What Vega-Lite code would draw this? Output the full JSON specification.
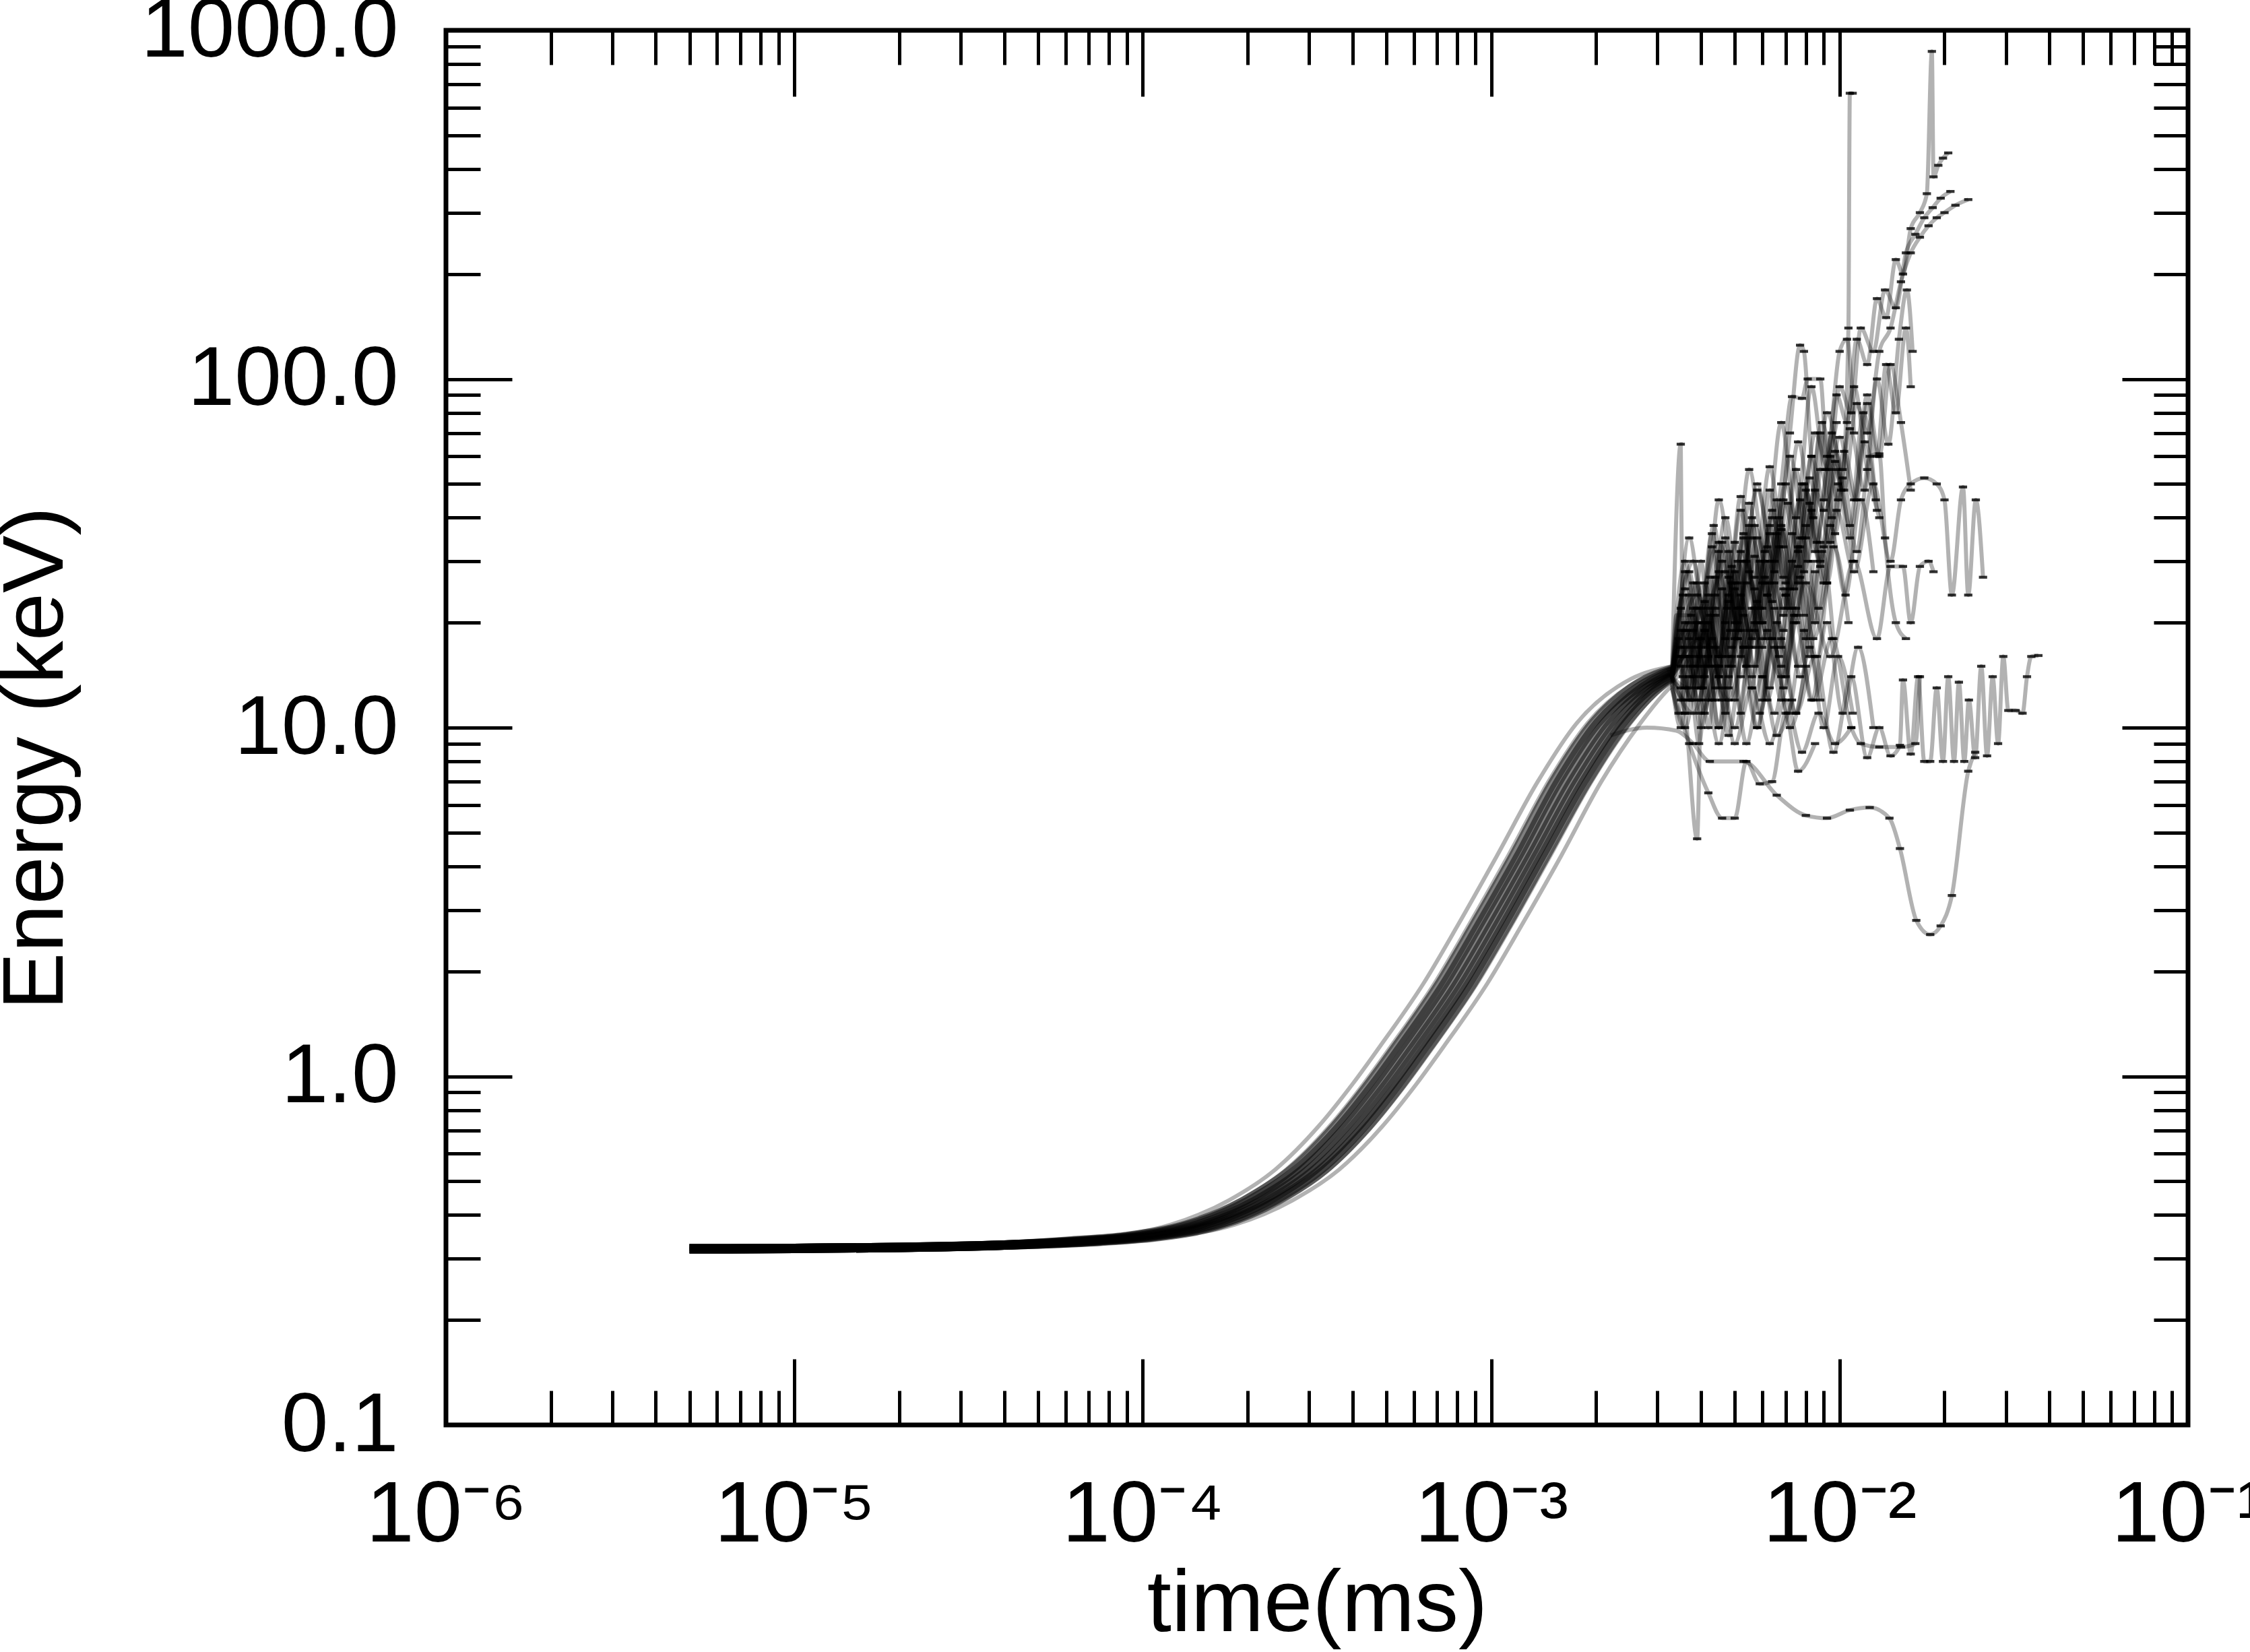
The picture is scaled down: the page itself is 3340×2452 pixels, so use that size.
{
  "$schema": "https://vega.github.io/schema/vega-lite/v6.json",
  "description": "Energy of particle runs against time, log-log",
  "width": 2586,
  "height": 2070,
  "autosize": {"type": "none"},
  "padding": {"left": 662, "top": 45, "right": 92, "bottom": 337},
  "background": "white",
  "config": {"view": {"stroke": "black", "strokeWidth": 7}, "font": "Liberation Sans"},
  "data": {"values": [
    {"run":1,"time":5e-6,"energy":0.32},{"run":1,"time":1e-5,"energy":0.321},{"run":1,"time":2e-5,"energy":0.323},{"run":1,"time":4e-5,"energy":0.328},{"run":1,"time":7e-5,"energy":0.337},{"run":1,"time":1e-4,"energy":0.347},{"run":1,"time":1.5e-4,"energy":0.375},{"run":1,"time":2.2e-4,"energy":0.44},{"run":1,"time":3e-4,"energy":0.54},{"run":1,"time":4e-4,"energy":0.72},{"run":1,"time":5e-4,"energy":0.95},{"run":1,"time":6e-4,"energy":1.22},{"run":1,"time":8e-4,"energy":1.85},{"run":1,"time":1e-3,"energy":2.7},{"run":1,"time":1.3e-3,"energy":4.3},{"run":1,"time":1.7e-3,"energy":7.0},{"run":1,"time":2.2e-3,"energy":10.3},{"run":1,"time":2.8e-3,"energy":13.0},{"run":1,"time":3.3e-3,"energy":14.3},
    {"run":2,"time":5e-6,"energy":0.32},{"run":2,"time":1e-5,"energy":0.321},{"run":2,"time":2e-5,"energy":0.323},{"run":2,"time":4e-5,"energy":0.328},{"run":2,"time":6.44e-5,"energy":0.337},{"run":2,"time":9.2e-5,"energy":0.347},{"run":2,"time":1.38e-4,"energy":0.375},{"run":2,"time":2.02e-4,"energy":0.44},{"run":2,"time":2.76e-4,"energy":0.54},{"run":2,"time":3.68e-4,"energy":0.72},{"run":2,"time":4.6e-4,"energy":0.95},{"run":2,"time":5.52e-4,"energy":1.22},{"run":2,"time":7.36e-4,"energy":1.85},{"run":2,"time":9.2e-4,"energy":2.7},{"run":2,"time":1.2e-3,"energy":4.3},{"run":2,"time":1.56e-3,"energy":7.0},{"run":2,"time":2.02e-3,"energy":10.3},{"run":2,"time":2.69e-3,"energy":13.2},{"run":2,"time":3.3e-3,"energy":14.6},
    {"run":3,"time":5e-6,"energy":0.32},{"run":3,"time":1e-5,"energy":0.321},{"run":3,"time":2e-5,"energy":0.323},{"run":3,"time":4e-5,"energy":0.328},{"run":3,"time":7.56e-5,"energy":0.337},{"run":3,"time":1.08e-4,"energy":0.347},{"run":3,"time":1.62e-4,"energy":0.375},{"run":3,"time":2.38e-4,"energy":0.44},{"run":3,"time":3.24e-4,"energy":0.54},{"run":3,"time":4.32e-4,"energy":0.72},{"run":3,"time":5.4e-4,"energy":0.95},{"run":3,"time":6.48e-4,"energy":1.22},{"run":3,"time":8.64e-4,"energy":1.85},{"run":3,"time":1.08e-3,"energy":2.7},{"run":3,"time":1.4e-3,"energy":4.3},{"run":3,"time":1.84e-3,"energy":7.0},{"run":3,"time":2.38e-3,"energy":10.3},{"run":3,"time":2.91e-3,"energy":12.8},{"run":3,"time":3.3e-3,"energy":14.0},
    {"run":4,"time":5e-6,"energy":0.32},{"run":4,"time":1e-5,"energy":0.321},{"run":4,"time":2e-5,"energy":0.323},{"run":4,"time":4e-5,"energy":0.328},{"run":4,"time":6.02e-5,"energy":0.337},{"run":4,"time":8.6e-5,"energy":0.347},{"run":4,"time":1.29e-4,"energy":0.375},{"run":4,"time":1.89e-4,"energy":0.44},{"run":4,"time":2.58e-4,"energy":0.54},{"run":4,"time":3.44e-4,"energy":0.72},{"run":4,"time":4.3e-4,"energy":0.95},{"run":4,"time":5.16e-4,"energy":1.22},{"run":4,"time":6.88e-4,"energy":1.85},{"run":4,"time":8.6e-4,"energy":2.7},{"run":4,"time":1.12e-3,"energy":4.3},{"run":4,"time":1.46e-3,"energy":7.0},{"run":4,"time":1.89e-3,"energy":10.3},{"run":4,"time":2.6e-3,"energy":13.5},{"run":4,"time":3.3e-3,"energy":14.8},
    {"run":5,"time":5e-6,"energy":0.32},{"run":5,"time":1e-5,"energy":0.321},{"run":5,"time":2e-5,"energy":0.323},{"run":5,"time":4e-5,"energy":0.328},{"run":5,"time":7.98e-5,"energy":0.337},{"run":5,"time":1.14e-4,"energy":0.347},{"run":5,"time":1.71e-4,"energy":0.375},{"run":5,"time":2.51e-4,"energy":0.44},{"run":5,"time":3.42e-4,"energy":0.54},{"run":5,"time":4.56e-4,"energy":0.72},{"run":5,"time":5.7e-4,"energy":0.95},{"run":5,"time":6.84e-4,"energy":1.22},{"run":5,"time":9.12e-4,"energy":1.85},{"run":5,"time":1.14e-3,"energy":2.7},{"run":5,"time":1.48e-3,"energy":4.3},{"run":5,"time":1.94e-3,"energy":7.0},{"run":5,"time":2.51e-3,"energy":10.3},{"run":5,"time":2.99e-3,"energy":12.6},{"run":5,"time":3.3e-3,"energy":13.7},
    {"run":6,"time":5e-6,"energy":0.32},{"run":6,"time":1e-5,"energy":0.321},{"run":6,"time":2e-5,"energy":0.323},{"run":6,"time":4e-5,"energy":0.328},{"run":6,"time":6.72e-5,"energy":0.337},{"run":6,"time":9.6e-5,"energy":0.347},{"run":6,"time":1.44e-4,"energy":0.375},{"run":6,"time":2.11e-4,"energy":0.44},{"run":6,"time":2.88e-4,"energy":0.54},{"run":6,"time":3.84e-4,"energy":0.72},{"run":6,"time":4.8e-4,"energy":0.95},{"run":6,"time":5.76e-4,"energy":1.22},{"run":6,"time":7.68e-4,"energy":1.85},{"run":6,"time":9.6e-4,"energy":2.7},{"run":6,"time":1.25e-3,"energy":4.3},{"run":6,"time":1.63e-3,"energy":7.0},{"run":6,"time":2.11e-3,"energy":10.3},{"run":6,"time":2.74e-3,"energy":13.1},{"run":6,"time":3.3e-3,"energy":14.5},
    {"run":7,"time":5e-6,"energy":0.32},{"run":7,"time":1e-5,"energy":0.321},{"run":7,"time":2e-5,"energy":0.323},{"run":7,"time":4e-5,"energy":0.328},{"run":7,"time":7.28e-5,"energy":0.337},{"run":7,"time":1.04e-4,"energy":0.347},{"run":7,"time":1.56e-4,"energy":0.375},{"run":7,"time":2.29e-4,"energy":0.44},{"run":7,"time":3.12e-4,"energy":0.54},{"run":7,"time":4.16e-4,"energy":0.72},{"run":7,"time":5.2e-4,"energy":0.95},{"run":7,"time":6.24e-4,"energy":1.22},{"run":7,"time":8.32e-4,"energy":1.85},{"run":7,"time":1.04e-3,"energy":2.7},{"run":7,"time":1.35e-3,"energy":4.3},{"run":7,"time":1.77e-3,"energy":7.0},{"run":7,"time":2.29e-3,"energy":10.3},{"run":7,"time":2.86e-3,"energy":12.9},{"run":7,"time":3.3e-3,"energy":14.1},
    {"run":8,"time":5e-6,"energy":0.32},{"run":8,"time":1e-5,"energy":0.321},{"run":8,"time":2e-5,"energy":0.323},{"run":8,"time":4e-5,"energy":0.328},{"run":8,"time":5.6e-5,"energy":0.337},{"run":8,"time":8e-5,"energy":0.347},{"run":8,"time":1.2e-4,"energy":0.375},{"run":8,"time":1.76e-4,"energy":0.44},{"run":8,"time":2.4e-4,"energy":0.54},{"run":8,"time":3.2e-4,"energy":0.72},{"run":8,"time":4e-4,"energy":0.95},{"run":8,"time":4.8e-4,"energy":1.22},{"run":8,"time":6.4e-4,"energy":1.85},{"run":8,"time":8e-4,"energy":2.7},{"run":8,"time":1.04e-3,"energy":4.3},{"run":8,"time":1.36e-3,"energy":7.0},{"run":8,"time":1.76e-3,"energy":10.3},{"run":8,"time":2.52e-3,"energy":13.8},{"run":8,"time":3.3e-3,"energy":15.0},
    {"run":9,"time":5e-6,"energy":0.32},{"run":9,"time":1e-5,"energy":0.321},{"run":9,"time":2e-5,"energy":0.323},{"run":9,"time":4e-5,"energy":0.328},{"run":9,"time":8.54e-5,"energy":0.337},{"run":9,"time":1.22e-4,"energy":0.347},{"run":9,"time":1.83e-4,"energy":0.375},{"run":9,"time":2.68e-4,"energy":0.44},{"run":9,"time":3.66e-4,"energy":0.54},{"run":9,"time":4.88e-4,"energy":0.72},{"run":9,"time":6.1e-4,"energy":0.95},{"run":9,"time":7.32e-4,"energy":1.22},{"run":9,"time":9.76e-4,"energy":1.85},{"run":9,"time":1.22e-3,"energy":2.7},{"run":9,"time":1.59e-3,"energy":4.3},{"run":9,"time":2.07e-3,"energy":7.0},{"run":9,"time":2.68e-3,"energy":10.3},{"run":9,"time":3.11e-3,"energy":12.4},{"run":9,"time":3.3e-3,"energy":13.2},
    {"run":10,"time":5e-6,"energy":0.32},{"run":10,"time":1e-5,"energy":0.321},{"run":10,"time":2e-5,"energy":0.323},{"run":10,"time":4e-5,"energy":0.328},{"run":10,"time":6.23e-5,"energy":0.337},{"run":10,"time":8.9e-5,"energy":0.347},{"run":10,"time":1.34e-4,"energy":0.375},{"run":10,"time":1.96e-4,"energy":0.44},{"run":10,"time":2.67e-4,"energy":0.54},{"run":10,"time":3.56e-4,"energy":0.72},{"run":10,"time":4.45e-4,"energy":0.95},{"run":10,"time":5.34e-4,"energy":1.22},{"run":10,"time":7.12e-4,"energy":1.85},{"run":10,"time":8.9e-4,"energy":2.7},{"run":10,"time":1.16e-3,"energy":4.3},{"run":10,"time":1.51e-3,"energy":7.0},{"run":10,"time":1.96e-3,"energy":10.3},{"run":10,"time":2.65e-3,"energy":13.4},{"run":10,"time":3.3e-3,"energy":14.7},
    {"run":49,"time":5e-6,"energy":0.32},{"run":49,"time":1e-5,"energy":0.321},{"run":49,"time":2e-5,"energy":0.323},{"run":49,"time":4e-5,"energy":0.328},{"run":49,"time":7.77e-5,"energy":0.337},{"run":49,"time":1.11e-4,"energy":0.347},{"run":49,"time":1.67e-4,"energy":0.375},{"run":49,"time":2.44e-4,"energy":0.44},{"run":49,"time":3.33e-4,"energy":0.54},{"run":49,"time":4.44e-4,"energy":0.72},{"run":49,"time":5.55e-4,"energy":0.95},{"run":49,"time":6.66e-4,"energy":1.22},{"run":49,"time":8.88e-4,"energy":1.85},{"run":49,"time":1.11e-3,"energy":2.7},{"run":49,"time":1.44e-3,"energy":4.3},{"run":49,"time":1.89e-3,"energy":7.0},{"run":49,"time":2.44e-3,"energy":10.3},{"run":49,"time":2.95e-3,"energy":12.7},{"run":49,"time":3.3e-3,"energy":13.9},
    {"run":11,"time":3.3e-3,"energy":14},{"run":11,"time":3.5e-3,"energy":22},{"run":11,"time":3.7e-3,"energy":12},{"run":11,"time":4.0e-3,"energy":30},{"run":11,"time":4.3e-3,"energy":15},{"run":11,"time":4.7e-3,"energy":35},{"run":11,"time":5.1e-3,"energy":18},{"run":11,"time":5.6e-3,"energy":40},{"run":11,"time":6.0e-3,"energy":20},{"run":11,"time":6.6e-3,"energy":45},{"run":11,"time":7.2e-3,"energy":25},{"run":11,"time":8.0e-3,"energy":38},
    {"run":12,"time":3.3e-3,"energy":13},{"run":12,"time":3.45e-3,"energy":18},{"run":12,"time":3.6e-3,"energy":11},{"run":12,"time":3.9e-3,"energy":20},{"run":12,"time":4.2e-3,"energy":10},{"run":12,"time":4.6e-3,"energy":25},{"run":12,"time":5.0e-3,"energy":12},{"run":12,"time":5.5e-3,"energy":28},{"run":12,"time":6.0e-3,"energy":14},{"run":12,"time":6.5e-3,"energy":22},
    {"run":13,"time":3.2e-3,"energy":14.5},{"run":13,"time":3.5e-3,"energy":16},{"run":13,"time":3.8e-3,"energy":26},{"run":13,"time":4.1e-3,"energy":14},{"run":13,"time":4.5e-3,"energy":32},{"run":13,"time":4.9e-3,"energy":17},{"run":13,"time":5.3e-3,"energy":36},{"run":13,"time":5.8e-3,"energy":22},{"run":13,"time":6.3e-3,"energy":48},{"run":13,"time":6.9e-3,"energy":27},{"run":13,"time":7.5e-3,"energy":55},{"run":13,"time":8.1e-3,"energy":30},{"run":13,"time":8.8e-3,"energy":70},{"run":13,"time":9.5e-3,"energy":40},
    {"run":14,"time":3.3e-3,"energy":14},{"run":14,"time":3.6e-3,"energy":20},{"run":14,"time":4.0e-3,"energy":13},{"run":14,"time":4.5e-3,"energy":28},{"run":14,"time":5.0e-3,"energy":18},{"run":14,"time":5.6e-3,"energy":35},{"run":14,"time":6.2e-3,"energy":24},{"run":14,"time":6.9e-3,"energy":45},{"run":14,"time":7.6e-3,"energy":32},{"run":14,"time":8.3e-3,"energy":60},{"run":14,"time":9.0e-3,"energy":45},{"run":14,"time":9.8e-3,"energy":90},{"run":14,"time":1.05e-2,"energy":75},{"run":14,"time":1.12e-2,"energy":130},{"run":14,"time":1.2e-2,"energy":110},{"run":14,"time":1.28e-2,"energy":170},{"run":14,"time":1.36e-2,"energy":150},{"run":14,"time":1.45e-2,"energy":220},{"run":14,"time":1.52e-2,"energy":200},{"run":14,"time":1.6e-2,"energy":270},{"run":14,"time":1.7e-2,"energy":300},{"run":14,"time":1.78e-2,"energy":340},{"run":14,"time":1.84e-2,"energy":870},{"run":14,"time":1.86e-2,"energy":380},{"run":14,"time":1.92e-2,"energy":410},{"run":14,"time":1.98e-2,"energy":430},{"run":14,"time":2.05e-2,"energy":445},
    {"run":15,"time":3.3e-3,"energy":14},{"run":15,"time":3.7e-3,"energy":24},{"run":15,"time":4.1e-3,"energy":15},{"run":15,"time":4.6e-3,"energy":30},{"run":15,"time":5.1e-3,"energy":20},{"run":15,"time":5.7e-3,"energy":38},{"run":15,"time":6.3e-3,"energy":26},{"run":15,"time":7.0e-3,"energy":50},{"run":15,"time":7.7e-3,"energy":35},{"run":15,"time":8.5e-3,"energy":70},{"run":15,"time":9.3e-3,"energy":55},{"run":15,"time":1.0e-2,"energy":95},{"run":15,"time":1.08e-2,"energy":80},{"run":15,"time":1.15e-2,"energy":140},{"run":15,"time":1.25e-2,"energy":120},{"run":15,"time":1.35e-2,"energy":180},{"run":15,"time":1.45e-2,"energy":160},{"run":15,"time":1.55e-2,"energy":230},{"run":15,"time":1.65e-2,"energy":260},{"run":15,"time":1.75e-2,"energy":290},{"run":15,"time":1.85e-2,"energy":310},{"run":15,"time":1.95e-2,"energy":330},{"run":15,"time":2.08e-2,"energy":345},
    {"run":16,"time":3.3e-3,"energy":14},{"run":16,"time":3.8e-3,"energy":19},{"run":16,"time":4.3e-3,"energy":12},{"run":16,"time":4.9e-3,"energy":26},{"run":16,"time":5.5e-3,"energy":17},{"run":16,"time":6.2e-3,"energy":33},{"run":16,"time":6.9e-3,"energy":22},{"run":16,"time":7.7e-3,"energy":45},{"run":16,"time":8.5e-3,"energy":32},{"run":16,"time":9.4e-3,"energy":60},{"run":16,"time":1.03e-2,"energy":48},{"run":16,"time":1.12e-2,"energy":85},{"run":16,"time":1.2e-2,"energy":70},{"run":16,"time":1.3e-2,"energy":120},{"run":16,"time":1.4e-2,"energy":140},{"run":16,"time":1.5e-2,"energy":190},{"run":16,"time":1.6e-2,"energy":230},{"run":16,"time":1.7e-2,"energy":255},{"run":16,"time":1.8e-2,"energy":275},{"run":16,"time":1.9e-2,"energy":290},{"run":16,"time":2.0e-2,"energy":300},{"run":16,"time":2.15e-2,"energy":315},{"run":16,"time":2.34e-2,"energy":327},
    {"run":17,"time":3.3e-3,"energy":14},{"run":17,"time":3.6e-3,"energy":12},{"run":17,"time":4.0e-3,"energy":22},{"run":17,"time":4.5e-3,"energy":14},{"run":17,"time":5.0e-3,"energy":28},{"run":17,"time":5.6e-3,"energy":18},{"run":17,"time":6.3e-3,"energy":36},{"run":17,"time":7.0e-3,"energy":24},{"run":17,"time":7.8e-3,"energy":50},{"run":17,"time":8.6e-3,"energy":34},{"run":17,"time":9.5e-3,"energy":70},{"run":17,"time":1.02e-2,"energy":55},{"run":17,"time":1.06e-2,"energy":140},{"run":17,"time":1.07e-2,"energy":660},{"run":17,"time":1.09e-2,"energy":660},
    {"run":18,"time":3.3e-3,"energy":14},{"run":18,"time":3.7e-3,"energy":20},{"run":18,"time":4.2e-3,"energy":12},{"run":18,"time":4.8e-3,"energy":24},{"run":18,"time":5.4e-3,"energy":15},{"run":18,"time":6.1e-3,"energy":30},{"run":18,"time":6.9e-3,"energy":19},{"run":18,"time":7.8e-3,"energy":35},{"run":18,"time":8.7e-3,"energy":22},{"run":18,"time":9.8e-3,"energy":42},{"run":18,"time":1.1e-2,"energy":28},{"run":18,"time":1.25e-2,"energy":50},{"run":18,"time":1.4e-2,"energy":30},{"run":18,"time":1.5e-2,"energy":45},{"run":18,"time":1.6e-2,"energy":50},{"run":18,"time":1.75e-2,"energy":52},{"run":18,"time":1.9e-2,"energy":50},{"run":18,"time":2.0e-2,"energy":45},{"run":18,"time":2.1e-2,"energy":24},{"run":18,"time":2.26e-2,"energy":49},{"run":18,"time":2.34e-2,"energy":24},{"run":18,"time":2.46e-2,"energy":45},{"run":18,"time":2.58e-2,"energy":27},
    {"run":19,"time":3.3e-3,"energy":13},{"run":19,"time":3.6e-3,"energy":10},{"run":19,"time":4.0e-3,"energy":16},{"run":19,"time":4.5e-3,"energy":9},{"run":19,"time":5.1e-3,"energy":18},{"run":19,"time":5.8e-3,"energy":10},{"run":19,"time":6.6e-3,"energy":20},{"run":19,"time":7.5e-3,"energy":11},{"run":19,"time":8.5e-3,"energy":16},{"run":19,"time":9.6e-3,"energy":8.5},{"run":19,"time":1.08e-2,"energy":14},{"run":19,"time":1.2e-2,"energy":8.2},{"run":19,"time":1.3e-2,"energy":10},{"run":19,"time":1.4e-2,"energy":8.3},{"run":19,"time":1.49e-2,"energy":8.9},{"run":19,"time":1.52e-2,"energy":13.7},{"run":19,"time":1.6e-2,"energy":8.4},{"run":19,"time":1.68e-2,"energy":14},{"run":19,"time":1.75e-2,"energy":8},{"run":19,"time":1.82e-2,"energy":8},{"run":19,"time":1.9e-2,"energy":13},{"run":19,"time":1.98e-2,"energy":8},{"run":19,"time":2.05e-2,"energy":14},{"run":19,"time":2.13e-2,"energy":8},{"run":19,"time":2.2e-2,"energy":13.5},{"run":19,"time":2.28e-2,"energy":8},{"run":19,"time":2.35e-2,"energy":12},{"run":19,"time":2.45e-2,"energy":8.2},{"run":19,"time":2.55e-2,"energy":15},{"run":19,"time":2.65e-2,"energy":8.3},{"run":19,"time":2.75e-2,"energy":14},{"run":19,"time":2.85e-2,"energy":9},{"run":19,"time":2.95e-2,"energy":16},{"run":19,"time":3.05e-2,"energy":11.2},{"run":19,"time":3.2e-2,"energy":11.2},{"run":19,"time":3.35e-2,"energy":11},{"run":19,"time":3.45e-2,"energy":14},{"run":19,"time":3.55e-2,"energy":16},{"run":19,"time":3.72e-2,"energy":16.1},
    {"run":20,"time":2.2e-3,"energy":9.5},{"run":20,"time":2.8e-3,"energy":10},{"run":20,"time":3.4e-3,"energy":9.8},{"run":20,"time":3.8e-3,"energy":9},{"run":20,"time":4.24e-3,"energy":8},{"run":20,"time":5.3e-3,"energy":8},{"run":20,"time":6.6e-3,"energy":6.4},{"run":20,"time":8.0e-3,"energy":5.6},{"run":20,"time":9.2e-3,"energy":5.5},{"run":20,"time":1.07e-2,"energy":5.8},{"run":20,"time":1.22e-2,"energy":5.9},{"run":20,"time":1.39e-2,"energy":5.5},{"run":20,"time":1.49e-2,"energy":4.5},{"run":20,"time":1.66e-2,"energy":2.8},{"run":20,"time":1.82e-2,"energy":2.55},{"run":20,"time":1.95e-2,"energy":2.7},{"run":20,"time":2.1e-2,"energy":3.3},{"run":20,"time":2.34e-2,"energy":7.5},{"run":20,"time":2.45e-2,"energy":8.5},
    {"run":21,"time":3.3e-3,"energy":14},{"run":21,"time":3.5e-3,"energy":12},{"run":21,"time":3.8e-3,"energy":17},{"run":21,"time":4.1e-3,"energy":11},{"run":21,"time":4.4e-3,"energy":21},{"run":21,"time":4.8e-3,"energy":13},{"run":21,"time":5.2e-3,"energy":24},{"run":21,"time":5.7e-3,"energy":15},{"run":21,"time":6.2e-3,"energy":19},{"run":21,"time":6.8e-3,"energy":12},{"run":21,"time":7.4e-3,"energy":20},
    {"run":22,"time":3.4e-3,"energy":15},{"run":22,"time":3.6e-3,"energy":28},{"run":22,"time":3.9e-3,"energy":16},{"run":22,"time":4.3e-3,"energy":36},{"run":22,"time":4.7e-3,"energy":20},{"run":22,"time":5.2e-3,"energy":42},{"run":22,"time":5.7e-3,"energy":25},{"run":22,"time":6.3e-3,"energy":38},{"run":22,"time":6.9e-3,"energy":21},{"run":22,"time":7.6e-3,"energy":33},{"run":22,"time":8.4e-3,"energy":18},{"run":22,"time":9.2e-3,"energy":26},
    {"run":23,"time":3.3e-3,"energy":14},{"run":23,"time":3.5e-3,"energy":65},{"run":23,"time":3.55e-3,"energy":14},{"run":23,"time":3.8e-3,"energy":12},{"run":23,"time":4.1e-3,"energy":19},{"run":23,"time":4.5e-3,"energy":10},{"run":23,"time":4.9e-3,"energy":16},{"run":23,"time":5.4e-3,"energy":9},{"run":23,"time":6.0e-3,"energy":14},{"run":23,"time":6.6e-3,"energy":9.5},{"run":23,"time":7.3e-3,"energy":12},
    {"run":24,"time":3.3e-3,"energy":14},{"run":24,"time":3.6e-3,"energy":11},{"run":24,"time":3.9e-3,"energy":4.8},{"run":24,"time":4.0e-3,"energy":12},{"run":24,"time":4.3e-3,"energy":18},{"run":24,"time":4.7e-3,"energy":11},{"run":24,"time":5.1e-3,"energy":22},{"run":24,"time":5.6e-3,"energy":13},{"run":24,"time":6.1e-3,"energy":27},{"run":24,"time":6.7e-3,"energy":16},{"run":24,"time":7.3e-3,"energy":30},{"run":24,"time":8.0e-3,"energy":18},{"run":24,"time":8.8e-3,"energy":34},
    {"run":25,"time":3.3e-3,"energy":13.5},{"run":25,"time":3.7e-3,"energy":16},{"run":25,"time":4.1e-3,"energy":23},{"run":25,"time":4.6e-3,"energy":13},{"run":25,"time":5.1e-3,"energy":30},{"run":25,"time":5.7e-3,"energy":17},{"run":25,"time":6.4e-3,"energy":40},{"run":25,"time":7.1e-3,"energy":22},{"run":25,"time":7.9e-3,"energy":50},{"run":25,"time":8.8e-3,"energy":30},{"run":25,"time":9.7e-3,"energy":62},{"run":25,"time":1.07e-2,"energy":38},{"run":25,"time":1.17e-2,"energy":80},{"run":25,"time":1.27e-2,"energy":45},
    {"run":26,"time":3.3e-3,"energy":14},{"run":26,"time":3.8e-3,"energy":30},{"run":26,"time":4.2e-3,"energy":17},{"run":26,"time":4.7e-3,"energy":40},{"run":26,"time":5.2e-3,"energy":22},{"run":26,"time":5.8e-3,"energy":50},{"run":26,"time":6.5e-3,"energy":28},{"run":26,"time":7.2e-3,"energy":60},{"run":26,"time":8.0e-3,"energy":35},{"run":26,"time":8.9e-3,"energy":75},{"run":26,"time":9.9e-3,"energy":45},{"run":26,"time":1.1e-2,"energy":95},{"run":26,"time":1.2e-2,"energy":55},{"run":26,"time":1.3e-2,"energy":40},
    {"run":27,"time":3.35e-3,"energy":14},{"run":27,"time":3.7e-3,"energy":18},{"run":27,"time":4.1e-3,"energy":26},{"run":27,"time":4.5e-3,"energy":16},{"run":27,"time":5.0e-3,"energy":34},{"run":27,"time":5.5e-3,"energy":19},{"run":27,"time":6.1e-3,"energy":26},{"run":27,"time":6.8e-3,"energy":15},{"run":27,"time":7.5e-3,"energy":22},{"run":27,"time":8.3e-3,"energy":12},{"run":27,"time":9.2e-3,"energy":20},{"run":27,"time":1.02e-2,"energy":11},{"run":27,"time":1.13e-2,"energy":17},{"run":27,"time":1.25e-2,"energy":10},
    {"run":28,"time":3.3e-3,"energy":14},{"run":28,"time":3.6e-3,"energy":19},{"run":28,"time":4.0e-3,"energy":11},{"run":28,"time":4.5e-3,"energy":15},{"run":28,"time":5.0e-3,"energy":9},{"run":28,"time":5.6e-3,"energy":13},{"run":28,"time":6.3e-3,"energy":9},{"run":28,"time":7.0e-3,"energy":12},{"run":28,"time":7.8e-3,"energy":8.5},{"run":28,"time":8.7e-3,"energy":11},{"run":28,"time":9.7e-3,"energy":9},{"run":28,"time":1.08e-2,"energy":10},
    {"run":29,"time":3.4e-3,"energy":15},{"run":29,"time":3.7e-3,"energy":35},{"run":29,"time":4.1e-3,"energy":20},{"run":29,"time":4.5e-3,"energy":45},{"run":29,"time":5.0e-3,"energy":26},{"run":29,"time":5.5e-3,"energy":55},{"run":29,"time":6.1e-3,"energy":32},{"run":29,"time":6.8e-3,"energy":75},{"run":29,"time":7.5e-3,"energy":40},{"run":29,"time":8.3e-3,"energy":95},{"run":29,"time":9.1e-3,"energy":55},{"run":29,"time":1.0e-2,"energy":120},{"run":29,"time":1.05e-2,"energy":130},{"run":29,"time":1.1e-2,"energy":70},
    {"run":30,"time":3.3e-3,"energy":14},{"run":30,"time":3.9e-3,"energy":20},{"run":30,"time":4.5e-3,"energy":34},{"run":30,"time":5.1e-3,"energy":22},{"run":30,"time":5.8e-3,"energy":48},{"run":30,"time":6.5e-3,"energy":30},{"run":30,"time":7.2e-3,"energy":70},{"run":30,"time":7.7e-3,"energy":125},{"run":30,"time":7.9e-3,"energy":120},{"run":30,"time":8.3e-3,"energy":60},{"run":30,"time":9.0e-3,"energy":42},{"run":30,"time":9.8e-3,"energy":55},
    {"run":31,"time":3.3e-3,"energy":14},{"run":31,"time":3.7e-3,"energy":13},{"run":31,"time":4.2e-3,"energy":20},{"run":31,"time":4.8e-3,"energy":14},{"run":31,"time":5.4e-3,"energy":26},{"run":31,"time":6.0e-3,"energy":17},{"run":31,"time":6.7e-3,"energy":33},{"run":31,"time":7.5e-3,"energy":20},{"run":31,"time":8.3e-3,"energy":42},{"run":31,"time":9.2e-3,"energy":26},{"run":31,"time":1.02e-2,"energy":52},{"run":31,"time":1.12e-2,"energy":32},{"run":31,"time":1.22e-2,"energy":60},{"run":31,"time":1.3e-2,"energy":61},{"run":31,"time":1.35e-2,"energy":35},{"run":31,"time":1.45e-2,"energy":20},{"run":31,"time":1.55e-2,"energy":18},
    {"run":32,"time":3.3e-3,"energy":14},{"run":32,"time":3.6e-3,"energy":16},{"run":32,"time":4.0e-3,"energy":13},{"run":32,"time":4.4e-3,"energy":24},{"run":32,"time":4.9e-3,"energy":15},{"run":32,"time":5.4e-3,"energy":30},{"run":32,"time":6.0e-3,"energy":18},{"run":32,"time":6.7e-3,"energy":40},{"run":32,"time":7.4e-3,"energy":25},{"run":32,"time":8.2e-3,"energy":52},{"run":32,"time":9.0e-3,"energy":33},{"run":32,"time":1.0e-2,"energy":68},{"run":32,"time":1.1e-2,"energy":45},{"run":32,"time":1.2e-2,"energy":90},{"run":32,"time":1.3e-2,"energy":60},{"run":32,"time":1.4e-2,"energy":110},{"run":32,"time":1.5e-2,"energy":75},{"run":32,"time":1.6e-2,"energy":48},
    {"run":33,"time":3.3e-3,"energy":14},{"run":33,"time":3.8e-3,"energy":11},{"run":33,"time":4.4e-3,"energy":17},{"run":33,"time":5.0e-3,"energy":10},{"run":33,"time":5.7e-3,"energy":19},{"run":33,"time":6.5e-3,"energy":11},{"run":33,"time":7.4e-3,"energy":21},{"run":33,"time":8.4e-3,"energy":12},{"run":33,"time":9.5e-3,"energy":18},{"run":33,"time":1.08e-2,"energy":10},{"run":33,"time":1.15e-2,"energy":9},{"run":33,"time":1.3e-2,"energy":8.8},{"run":33,"time":1.5e-2,"energy":8.8},{"run":33,"time":1.65e-2,"energy":9},{"run":33,"time":1.7e-2,"energy":14},
    {"run":34,"time":3.3e-3,"energy":13},{"run":34,"time":3.7e-3,"energy":9},{"run":34,"time":4.2e-3,"energy":6.5},{"run":34,"time":4.6e-3,"energy":5.5},{"run":34,"time":5.0e-3,"energy":5.5},{"run":34,"time":5.4e-3,"energy":8},{"run":34,"time":5.9e-3,"energy":6.9},{"run":34,"time":6.4e-3,"energy":7},{"run":34,"time":7.0e-3,"energy":11},{"run":34,"time":7.6e-3,"energy":7.5},{"run":34,"time":8.5e-3,"energy":9},
    {"run":35,"time":3.3e-3,"energy":14},{"run":35,"time":3.9e-3,"energy":24},{"run":35,"time":4.6e-3,"energy":16},{"run":35,"time":5.3e-3,"energy":30},{"run":35,"time":6.0e-3,"energy":20},{"run":35,"time":6.8e-3,"energy":38},{"run":35,"time":7.6e-3,"energy":26},{"run":35,"time":8.5e-3,"energy":48},{"run":35,"time":9.4e-3,"energy":34},{"run":35,"time":1.03e-2,"energy":62},{"run":35,"time":1.12e-2,"energy":45},{"run":35,"time":1.2e-2,"energy":85},{"run":35,"time":1.28e-2,"energy":60},{"run":35,"time":1.36e-2,"energy":110},{"run":35,"time":1.45e-2,"energy":80},{"run":35,"time":1.55e-2,"energy":140},{"run":35,"time":1.6e-2,"energy":95},
    {"run":36,"time":3.3e-3,"energy":14},{"run":36,"time":3.5e-3,"energy":17},{"run":36,"time":3.8e-3,"energy":14},{"run":36,"time":4.2e-3,"energy":22},{"run":36,"time":4.7e-3,"energy":28},{"run":36,"time":5.2e-3,"energy":19},{"run":36,"time":5.8e-3,"energy":35},{"run":36,"time":6.4e-3,"energy":23},{"run":36,"time":7.1e-3,"energy":44},{"run":36,"time":7.9e-3,"energy":28},{"run":36,"time":8.8e-3,"energy":55},{"run":36,"time":9.7e-3,"energy":36},{"run":36,"time":1.07e-2,"energy":72},{"run":36,"time":1.18e-2,"energy":48},{"run":36,"time":1.28e-2,"energy":100},{"run":36,"time":1.38e-2,"energy":65},{"run":36,"time":1.48e-2,"energy":130},{"run":36,"time":1.56e-2,"energy":180},{"run":36,"time":1.62e-2,"energy":120},
    {"run":37,"time":3.3e-3,"energy":14},{"run":37,"time":3.9e-3,"energy":22},{"run":37,"time":4.5e-3,"energy":15},{"run":37,"time":5.2e-3,"energy":32},{"run":37,"time":6.0e-3,"energy":22},{"run":37,"time":6.8e-3,"energy":50},{"run":37,"time":7.3e-3,"energy":89},{"run":37,"time":7.8e-3,"energy":88},{"run":37,"time":8.1e-3,"energy":100},{"run":37,"time":8.8e-3,"energy":100},{"run":37,"time":9.2e-3,"energy":60},{"run":37,"time":9.8e-3,"energy":75},
    {"run":38,"time":3.3e-3,"energy":14},{"run":38,"time":4.0e-3,"energy":18},{"run":38,"time":4.8e-3,"energy":12},{"run":38,"time":5.7e-3,"energy":22},{"run":38,"time":6.8e-3,"energy":14},{"run":38,"time":8.0e-3,"energy":26},{"run":38,"time":9.4e-3,"energy":16},{"run":38,"time":1.1e-2,"energy":30},{"run":38,"time":1.28e-2,"energy":18},{"run":38,"time":1.4e-2,"energy":29},{"run":38,"time":1.52e-2,"energy":29},{"run":38,"time":1.6e-2,"energy":20},{"run":38,"time":1.7e-2,"energy":29},{"run":38,"time":1.8e-2,"energy":30},{"run":38,"time":1.86e-2,"energy":28},
    {"run":39,"time":3.3e-3,"energy":14},{"run":39,"time":3.6e-3,"energy":25},{"run":39,"time":3.9e-3,"energy":15},{"run":39,"time":4.3e-3,"energy":33},{"run":39,"time":4.7e-3,"energy":18},{"run":39,"time":5.1e-3,"energy":26},{"run":39,"time":5.6e-3,"energy":14},{"run":39,"time":6.2e-3,"energy":24},{"run":39,"time":6.9e-3,"energy":13},{"run":39,"time":7.7e-3,"energy":27},{"run":39,"time":8.6e-3,"energy":16},{"run":39,"time":9.6e-3,"energy":33},{"run":39,"time":1.06e-2,"energy":20},
    {"run":40,"time":3.3e-3,"energy":14},{"run":40,"time":3.4e-3,"energy":21},{"run":40,"time":3.75e-3,"energy":21},{"run":40,"time":4.05e-3,"energy":13},{"run":40,"time":4.4e-3,"energy":27},{"run":40,"time":4.8e-3,"energy":16},{"run":40,"time":5.3e-3,"energy":21},{"run":40,"time":5.9e-3,"energy":11},{"run":40,"time":6.5e-3,"energy":17},{"run":40,"time":7.2e-3,"energy":10},{"run":40,"time":8.0e-3,"energy":15},
    {"run":41,"time":3.3e-3,"energy":14},{"run":41,"time":3.45e-3,"energy":11},{"run":41,"time":3.65e-3,"energy":19},{"run":41,"time":3.9e-3,"energy":13},{"run":41,"time":4.2e-3,"energy":24},{"run":41,"time":4.5e-3,"energy":14},{"run":41,"time":4.9e-3,"energy":29},{"run":41,"time":5.3e-3,"energy":17},{"run":41,"time":5.8e-3,"energy":23},{"run":41,"time":6.3e-3,"energy":13},{"run":41,"time":6.9e-3,"energy":25},{"run":41,"time":7.6e-3,"energy":15},{"run":41,"time":8.4e-3,"energy":30},
    {"run":42,"time":3.3e-3,"energy":14},{"run":42,"time":3.55e-3,"energy":24},{"run":42,"time":3.8e-3,"energy":15},{"run":42,"time":4.1e-3,"energy":19},{"run":42,"time":4.4e-3,"energy":12},{"run":42,"time":4.8e-3,"energy":27},{"run":42,"time":5.2e-3,"energy":16},{"run":42,"time":5.7e-3,"energy":31},{"run":42,"time":6.2e-3,"energy":18},{"run":42,"time":6.8e-3,"energy":37},{"run":42,"time":7.5e-3,"energy":21},{"run":42,"time":8.2e-3,"energy":44},{"run":42,"time":9.0e-3,"energy":26},{"run":42,"time":9.9e-3,"energy":50},{"run":42,"time":1.09e-2,"energy":30},
    {"run":43,"time":3.3e-3,"energy":14},{"run":43,"time":3.5e-3,"energy":13},{"run":43,"time":3.7e-3,"energy":16},{"run":43,"time":4.0e-3,"energy":10},{"run":43,"time":4.4e-3,"energy":15},{"run":43,"time":4.8e-3,"energy":9.5},{"run":43,"time":5.3e-3,"energy":17},{"run":43,"time":5.8e-3,"energy":10},{"run":43,"time":6.4e-3,"energy":18},{"run":43,"time":7.1e-3,"energy":11},{"run":43,"time":7.9e-3,"energy":19},{"run":43,"time":8.8e-3,"energy":12},
    {"run":44,"time":3.3e-3,"energy":14.5},{"run":44,"time":3.6e-3,"energy":30},{"run":44,"time":3.95e-3,"energy":18},{"run":44,"time":4.35e-3,"energy":38},{"run":44,"time":4.75e-3,"energy":22},{"run":44,"time":5.2e-3,"energy":46},{"run":44,"time":5.7e-3,"energy":27},{"run":44,"time":6.3e-3,"energy":56},{"run":44,"time":6.9e-3,"energy":33},{"run":44,"time":7.6e-3,"energy":66},{"run":44,"time":8.4e-3,"energy":40},{"run":44,"time":9.2e-3,"energy":80},{"run":44,"time":1.01e-2,"energy":48},
    {"run":45,"time":3.3e-3,"energy":13.5},{"run":45,"time":3.5e-3,"energy":15},{"run":45,"time":3.75e-3,"energy":12},{"run":45,"time":4.05e-3,"energy":20},{"run":45,"time":4.4e-3,"energy":13},{"run":45,"time":4.8e-3,"energy":23},{"run":45,"time":5.2e-3,"energy":14},{"run":45,"time":5.7e-3,"energy":20},{"run":45,"time":6.2e-3,"energy":12},{"run":45,"time":6.8e-3,"energy":18},{"run":45,"time":7.5e-3,"energy":11},{"run":45,"time":8.2e-3,"energy":17},{"run":45,"time":9.0e-3,"energy":10},{"run":45,"time":9.9e-3,"energy":16},{"run":45,"time":1.09e-2,"energy":11},
    {"run":46,"time":3.3e-3,"energy":14},{"run":46,"time":3.7e-3,"energy":28},{"run":46,"time":4.0e-3,"energy":17},{"run":46,"time":4.4e-3,"energy":22},{"run":46,"time":4.8e-3,"energy":15},{"run":46,"time":5.3e-3,"energy":35},{"run":46,"time":5.8e-3,"energy":20},{"run":46,"time":6.4e-3,"energy":42},{"run":46,"time":7.0e-3,"energy":26},{"run":46,"time":7.7e-3,"energy":33},{"run":46,"time":8.5e-3,"energy":20},{"run":46,"time":9.4e-3,"energy":38},{"run":46,"time":1.04e-2,"energy":24},{"run":46,"time":1.15e-2,"energy":45},{"run":46,"time":1.25e-2,"energy":28},
    {"run":47,"time":3.3e-3,"energy":14},{"run":47,"time":3.5e-3,"energy":19},{"run":47,"time":3.7e-3,"energy":15},{"run":47,"time":3.95e-3,"energy":12},{"run":47,"time":4.25e-3,"energy":21},{"run":47,"time":4.6e-3,"energy":12},{"run":47,"time":5.0e-3,"energy":25},{"run":47,"time":5.4e-3,"energy":15},{"run":47,"time":5.9e-3,"energy":30},{"run":47,"time":6.4e-3,"energy":18},{"run":47,"time":7.0e-3,"energy":24},{"run":47,"time":7.7e-3,"energy":14},{"run":47,"time":8.5e-3,"energy":28},
    {"run":48,"time":3.3e-3,"energy":14},{"run":48,"time":3.6e-3,"energy":17},{"run":48,"time":3.9e-3,"energy":26},{"run":48,"time":4.2e-3,"energy":15},{"run":48,"time":4.6e-3,"energy":34},{"run":48,"time":5.0e-3,"energy":20},{"run":48,"time":5.5e-3,"energy":44},{"run":48,"time":6.0e-3,"energy":26},{"run":48,"time":6.6e-3,"energy":36},{"run":48,"time":7.3e-3,"energy":22},{"run":48,"time":8.0e-3,"energy":48},{"run":48,"time":8.8e-3,"energy":29},{"run":48,"time":9.7e-3,"energy":58},{"run":48,"time":1.07e-2,"energy":35},{"run":48,"time":1.18e-2,"energy":66},{"run":48,"time":1.28e-2,"energy":42},
    {"run":50,"time":3.3e-3,"energy":14},{"run":50,"time":3.45e-3,"energy":16},{"run":50,"time":3.6e-3,"energy":13},{"run":50,"time":3.8e-3,"energy":22},{"run":50,"time":4.0e-3,"energy":14},{"run":50,"time":4.25e-3,"energy":27},{"run":50,"time":4.5e-3,"energy":16},{"run":50,"time":4.8e-3,"energy":32},{"run":50,"time":5.1e-3,"energy":19},{"run":50,"time":5.5e-3,"energy":38},{"run":50,"time":5.9e-3,"energy":22},{"run":50,"time":6.3e-3,"energy":30},{"run":50,"time":6.8e-3,"energy":17},{"run":50,"time":7.3e-3,"energy":36},{"run":50,"time":7.9e-3,"energy":21},
    {"run":51,"time":3.3e-3,"energy":13.5},{"run":51,"time":3.5e-3,"energy":10},{"run":51,"time":3.7e-3,"energy":14},{"run":51,"time":3.95e-3,"energy":9},{"run":51,"time":4.2e-3,"energy":16},{"run":51,"time":4.5e-3,"energy":10},{"run":51,"time":4.85e-3,"energy":19},{"run":51,"time":5.2e-3,"energy":11},{"run":51,"time":5.6e-3,"energy":22},{"run":51,"time":6.0e-3,"energy":12},{"run":51,"time":6.5e-3,"energy":26},{"run":51,"time":7.0e-3,"energy":14},{"run":51,"time":7.6e-3,"energy":29},{"run":51,"time":8.2e-3,"energy":16},{"run":51,"time":8.9e-3,"energy":32},{"run":51,"time":9.6e-3,"energy":18}
  ]},
  "layer": [
    {
      "transform": [{"filter": "indexof([1,2,3,6,7,10,49], datum.run) >= 0"}],
      "mark": {"type": "line", "color": "black", "opacity": 0.5, "strokeWidth": 14, "interpolate": "monotone"},
      "encoding": {
        "x": {
          "field": "time", "type": "quantitative",
          "scale": {"type": "log", "domain": [1e-6, 0.1], "nice": false},
          "axis": {
            "orient": "bottom",
            "values": [1e-6,2e-6,3e-6,4e-6,5e-6,6e-6,7e-6,8e-6,9e-6,1e-5,2e-5,3e-5,4e-5,5e-5,6e-5,7e-5,8e-5,9e-5,1e-4,2e-4,3e-4,4e-4,5e-4,6e-4,7e-4,8e-4,9e-4,1e-3,2e-3,3e-3,4e-3,5e-3,6e-3,7e-3,8e-3,9e-3,1e-2,2e-2,3e-2,4e-2,5e-2,6e-2,7e-2,8e-2,9e-2,0.1],
            "domain": false, "grid": false,
            "tickColor": "black", "tickWidth": 5,
            "tickSize": {"condition": {"test": "abs(log(datum.value)/LN10 - round(log(datum.value)/LN10)) < 0.001", "value": -98}, "value": -51},
            "labelExpr": "abs(log(datum.value)/LN10 - round(log(datum.value)/LN10)) < 0.001 ? ['10⁻⁶','10⁻⁵','10⁻⁴','10⁻³','10⁻²','10⁻¹'][round(log(datum.value)/LN10) + 6] : ''",
            "labelFont": "Liberation Sans", "labelFontSize": 128, "labelColor": "black", "labelLimit": 2000,
            "labelPadding": 270, "labelBaseline": "alphabetic",
            "labelFlush": false, "labelOverlap": false, "labelBound": false,
            "title": "time(ms)", "titleFont": "Liberation Sans", "titleFontSize": 130, "titleFontWeight": "normal", "titleColor": "black",
            "titleX": 1293, "titleY": 305, "titleAlign": "center", "titleBaseline": "alphabetic"
          }
        },
        "y": {
          "field": "energy", "type": "quantitative",
          "scale": {"type": "log", "domain": [0.1, 1000], "nice": false},
          "axis": {
            "orient": "left",
            "values": [0.1,0.2,0.3,0.4,0.5,0.6,0.7,0.8,0.9,1,2,3,4,5,6,7,8,9,10,20,30,40,50,60,70,80,90,100,200,300,400,500,600,700,800,900,1000],
            "domain": false, "grid": false,
            "tickColor": "black", "tickWidth": 5,
            "tickSize": {"condition": {"test": "abs(log(datum.value)/LN10 - round(log(datum.value)/LN10)) < 0.001", "value": -98}, "value": -51},
            "labelExpr": "abs(log(datum.value)/LN10 - round(log(datum.value)/LN10)) < 0.001 ? format(datum.value, '.1f') : ''",
            "labelFont": "Liberation Sans", "labelFontSize": 125, "labelColor": "black", "labelLimit": 2000,
            "labelPadding": 169, "labelBaseline": "middle",
            "labelFlush": false, "labelOverlap": false, "labelBound": false,
            "title": "Energy (keV)", "titleFont": "Liberation Sans", "titleFontSize": 128, "titleFontWeight": "normal", "titleColor": "black",
            "titleX": -570, "titleY": 1080, "titleAngle": -90, "titleAlign": "center", "titleBaseline": "alphabetic"
          }
        },
        "detail": {"field": "run", "type": "nominal"}
      }
    },
    {
      "transform": [{"filter": "indexof([1,2,3,6,7,10,49], datum.run) < 0"}],
      "mark": {"type": "line", "color": "black", "opacity": 0.3, "strokeWidth": 6, "interpolate": "monotone"},
      "encoding": {
        "x": {"field": "time", "type": "quantitative", "axis": null},
        "y": {"field": "energy", "type": "quantitative", "axis": null},
        "detail": {"field": "run", "type": "nominal"}
      }
    },
    {
      "transform": [{"filter": "datum.time > 0.0034"}],
      "mark": {"type": "point", "shape": "M-1,-0.35L1,-0.35L1,0.35L-1,0.35Z", "filled": true, "color": "black", "opacity": 0.8, "size": 150},
      "encoding": {
        "x": {
          "field": "time", "type": "quantitative",
          "axis": {
            "orient": "top",
            "values": [1e-6,2e-6,3e-6,4e-6,5e-6,6e-6,7e-6,8e-6,9e-6,1e-5,2e-5,3e-5,4e-5,5e-5,6e-5,7e-5,8e-5,9e-5,1e-4,2e-4,3e-4,4e-4,5e-4,6e-4,7e-4,8e-4,9e-4,1e-3,2e-3,3e-3,4e-3,5e-3,6e-3,7e-3,8e-3,9e-3,1e-2,2e-2,3e-2,4e-2,5e-2,6e-2,7e-2,8e-2,9e-2,0.1],
            "domain": false, "grid": false, "labels": false, "title": null,
            "tickColor": "black", "tickWidth": 5,
            "tickSize": {"condition": {"test": "abs(log(datum.value)/LN10 - round(log(datum.value)/LN10)) < 0.001", "value": -98}, "value": -51}
          }
        },
        "y": {
          "field": "energy", "type": "quantitative",
          "axis": {
            "orient": "right",
            "values": [0.1,0.2,0.3,0.4,0.5,0.6,0.7,0.8,0.9,1,2,3,4,5,6,7,8,9,10,20,30,40,50,60,70,80,90,100,200,300,400,500,600,700,800,900,1000],
            "domain": false, "grid": false, "labels": false, "title": null,
            "tickColor": "black", "tickWidth": 5,
            "tickSize": {"condition": {"test": "abs(log(datum.value)/LN10 - round(log(datum.value)/LN10)) < 0.001", "value": -98}, "value": -51}
          }
        }
      }
    }
  ],
  "resolve": {"axis": {"x": "independent", "y": "independent"}}
}
